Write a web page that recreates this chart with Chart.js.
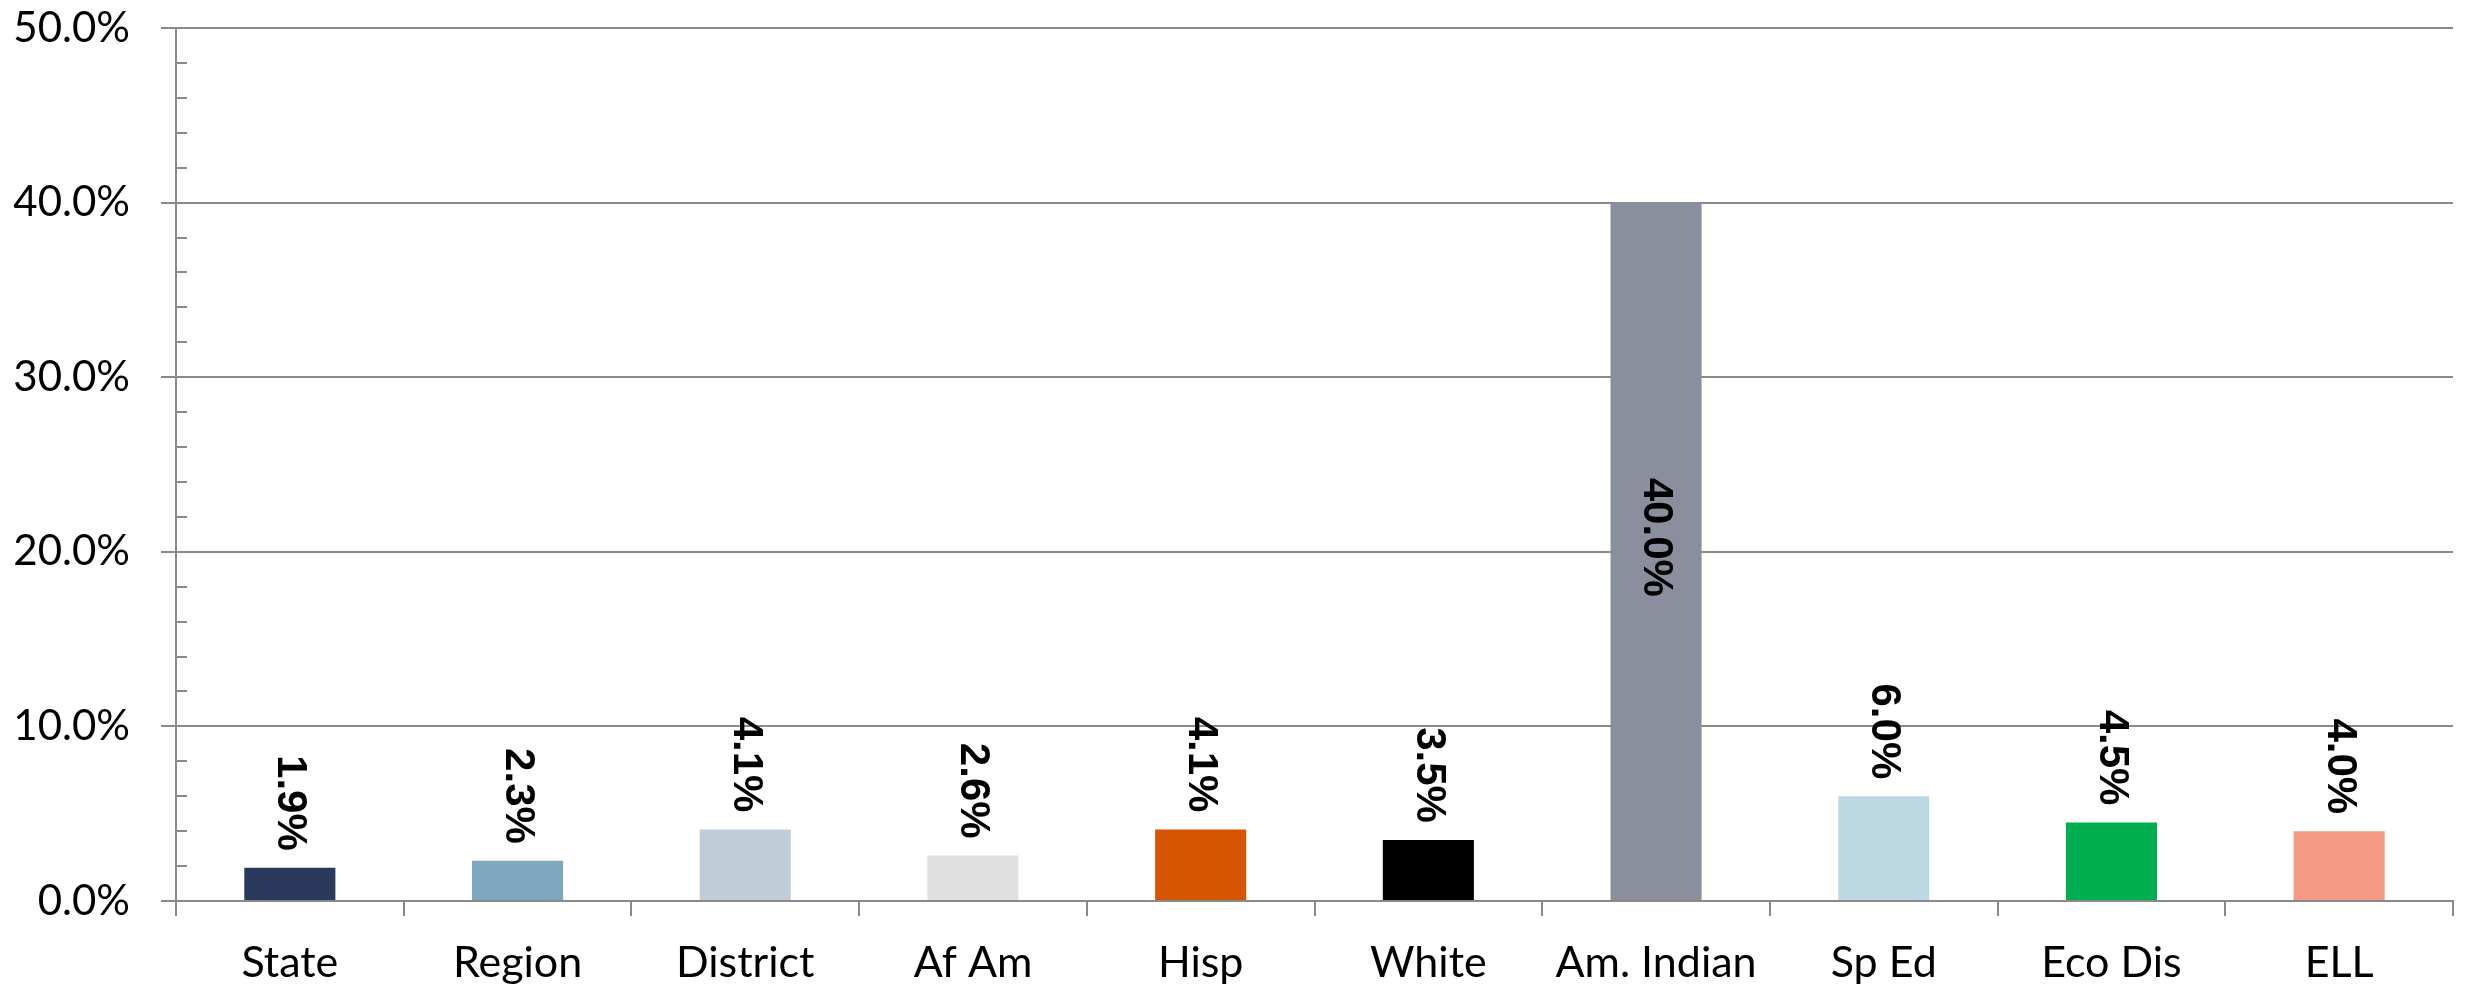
<!DOCTYPE html>
<html>
<head>
<meta charset="utf-8">
<script src="https://cdn.jsdelivr.net/npm/chart.js@4.4.0/dist/chart.umd.min.js"></script>
<style>
  html, body { margin: 0; padding: 0; background: #ffffff; }
  #wrap { width: 2466px; height: 988px; }
</style>
</head>
<body>
<div id="wrap"><canvas id="graphCanvas" width="2466" height="988"></canvas></div>
<script>
// dati del grafico
var categories = ["State", "Region", "District", "Af Am", "Hisp", "White", "Am. Indian", "Sp Ed", "Eco Dis", "ELL"];
var values = [1.9, 2.3, 4.1, 2.6, 4.1, 3.5, 40.0, 6.0, 4.5, 4.0];
var barColors = ["#2b3a5c", "#7ea7bd", "#c0ccd8", "#e0e0e0", "#d65500", "#000000", "#8b8e9c", "#bcd8e3", "#00ae4f", "#f49a82"];
var yMin = 0, yMax = 50, yStep = 2, yMajor = 10;

var gridColor = "#8a8a8a";

// etichette ruotate sopra le barre
var barLabels = {
    id: "barLabels",
    afterDatasetsDraw: function (chart) {
        var ctx = chart.ctx;
        var meta = chart.getDatasetMeta(0);
        ctx.save();
        ctx.fillStyle = "#000000";
        ctx.font = "bold 42px 'Liberation Sans', Arial, sans-serif";
        ctx.textBaseline = "middle";
        meta.data.forEach(function (bar, i) {
            var txt = values[i].toFixed(1) + "%";
            ctx.save();
            if (values[i] > 30) {
                // etichetta dentro la barra alta
                ctx.translate(bar.x, (bar.y + bar.base) / 2 - 14);
                ctx.rotate(Math.PI / 2);
                ctx.textAlign = "center";
            } else {
                ctx.translate(bar.x, bar.y - 17);
                ctx.rotate(Math.PI / 2);
                ctx.textAlign = "right";
            }
            ctx.fillText(txt, 0, 0);
            ctx.restore();
        });
        ctx.restore();
    }
};

// tacche secondarie sull'asse y
var minorTicks = {
    id: "minorTicks",
    afterDraw: function (chart) {
        var ctx = chart.ctx;
        var y = chart.scales.y;
        var left = chart.chartArea.left;
        ctx.save();
        ctx.strokeStyle = gridColor;
        ctx.lineWidth = 2;
        for (var v = yMin; v <= yMax; v += yStep) {
            if (v % yMajor === 0) continue;
            var py = Math.round(y.getPixelForValue(v));
            ctx.beginPath();
            ctx.moveTo(left, py);
            ctx.lineTo(left + 11, py);
            ctx.stroke();
        }
        ctx.restore();
    }
};

var chart = new Chart(document.getElementById("graphCanvas"), {
    type: "bar",
    data: {
        labels: categories,
        datasets: [{
            data: values,
            backgroundColor: barColors,
            borderWidth: 0,
            barPercentage: 0.4,
            categoryPercentage: 1.0
        }]
    },
    options: {
        responsive: false,
        animation: false,
        events: [],
        layout: { padding: { top: 28, right: 13, left: 0, bottom: 0 } },
        plugins: {
            legend: { display: false },
            tooltip: { enabled: false }
        },
        scales: {
            x: {
                afterFit: function (scale) { scale.height = 87; },
                grid: {
                    offset: true,
                    drawOnChartArea: false,
                    color: gridColor,
                    lineWidth: 2,
                    tickLength: 15
                },
                border: { display: true, color: gridColor, width: 2 },
                ticks: {
                    color: "#000000",
                    padding: 21,
                    maxRotation: 0,
                    autoSkip: false,
                    font: { family: "Lato, 'Open Sans', sans-serif", size: 43 }
                }
            },
            y: {
                min: yMin,
                max: yMax,
                afterFit: function (scale) {
                    scale.width = 176;
                    scale.paddingTop = 0;
                    scale.paddingBottom = 0;
                },
                grid: {
                    color: function (c) {
                        return Math.round(c.tick.value) % yMajor === 0 ? gridColor : "rgba(0,0,0,0)";
                    },
                    lineWidth: 2,
                    tickLength: 15
                },
                border: { display: true, color: gridColor, width: 2 },
                ticks: {
                    stepSize: yStep,
                    autoSkip: false,
                    color: "#000000",
                    padding: 31,
                    font: { family: "Lato, 'Open Sans', sans-serif", size: 42 },
                    callback: function (value) {
                        var v = Math.round(value);
                        return v % yMajor === 0 ? v.toFixed(1) + "%" : "";
                    }
                }
            }
        }
    },
    plugins: [barLabels, minorTicks]
});
</script>
</body>
</html>
